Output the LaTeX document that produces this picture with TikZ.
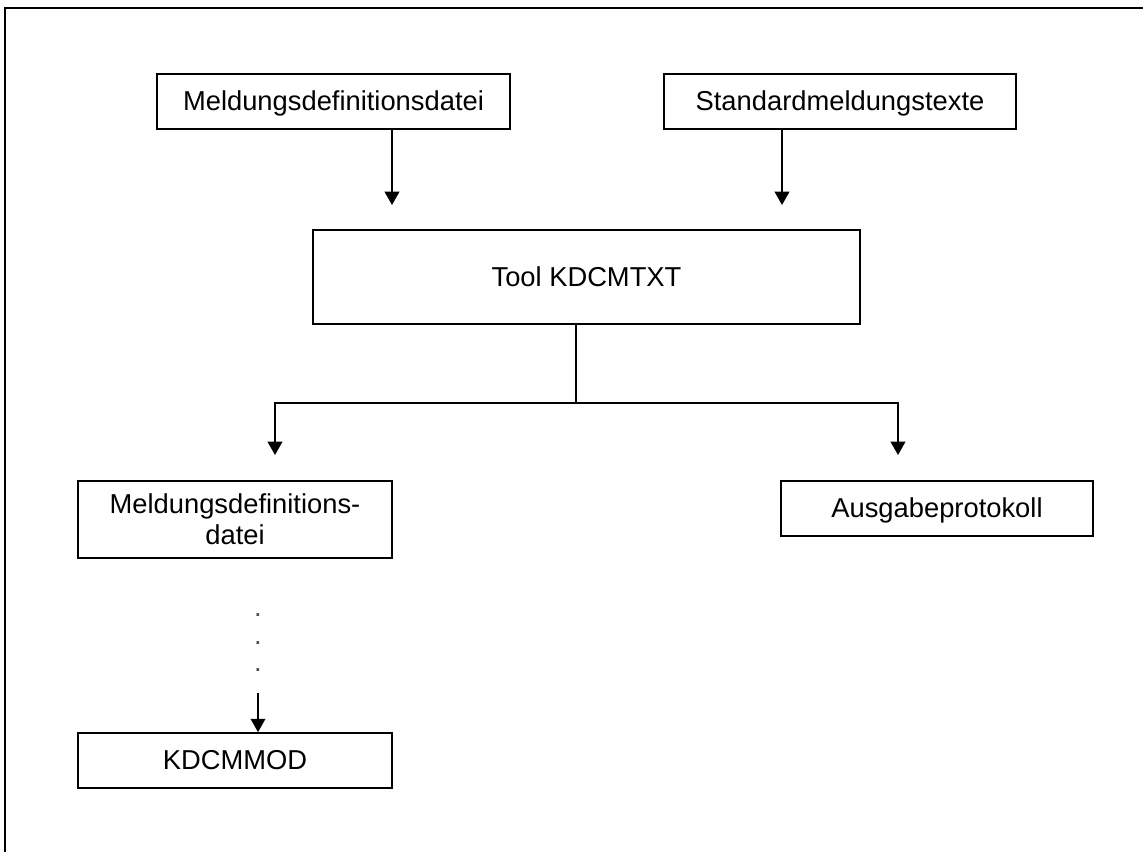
\documentclass[tikz,border=0pt]{standalone}
\usepackage{fontspec}
\setmainfont{Liberation Sans}
\usetikzlibrary{arrows.meta}
\tikzset{
  px/.style={x=0.75pt,y=-0.75pt},
  boxnode/.style={draw=black,line width=1.3pt,fill=white,inner sep=0pt,align=center,
    font=\fontsize{20.5}{23}\selectfont,text=black,text depth=1pt},
  conn/.style={draw=black,line width=1.3pt},
  arr/.style={conn,-{Triangle[width=11pt,length=10pt]}},
  dotnode/.style={inner sep=0pt,font=\fontsize{20.5}{23}\selectfont,text=black!70,anchor=base},
}
\begin{document}
\begin{tikzpicture}[px]
\useasboundingbox (0,0) rectangle (1143,852);
% outer frame (only top and left edges visible)
\draw[line width=2pt] (5,860) -- (5,8) -- (1150,8);

\node[boxnode,minimum width=264.75pt,minimum height=41.25pt] (mdd) at (333.5,101.5) {Meldungsdefinitionsdatei};
\node[boxnode,minimum width=264pt,minimum height=41.25pt] (smt) at (840,101.5) {Standardmeldungstexte};
\node[boxnode,minimum width=410.25pt,minimum height=70.5pt] (tool) at (586.5,277) {Tool KDCMTXT};
\node[boxnode,minimum width=235.5pt,minimum height=57.75pt] (mdd2) at (235,519.5) {Meldungsdefinitions-\\datei};
\node[boxnode,minimum width=234pt,minimum height=41.25pt] (aus) at (937,508.5) {Ausgabeprotokoll};
\node[boxnode,minimum width=235.5pt,minimum height=41.25pt] (kmod) at (235,760.5) {KDCMMOD};

\coordinate (t1) at (392,205);
\coordinate (t2) at (782,205);
\coordinate (split) at (576,403);
\coordinate (tl) at (275,455);
\coordinate (tr) at (898,455);
\coordinate (d0) at (258,693);

\draw[arr] (mdd.south -| t1) -- (t1);
\draw[arr] (smt.south -| t2) -- (t2);
\draw[conn] (tool.south -| split) -- (split);
\draw[arr] (split) -| (tl);
\draw[arr] (split) -| (tr);

\node[dotnode] (p1) at (258,616) {.};
\node[dotnode] (p2) at (258,644) {.};
\node[dotnode] (p3) at (258,671) {.};

\draw[arr] (d0) -- (kmod.north -| d0);
\end{tikzpicture}
\end{document}
